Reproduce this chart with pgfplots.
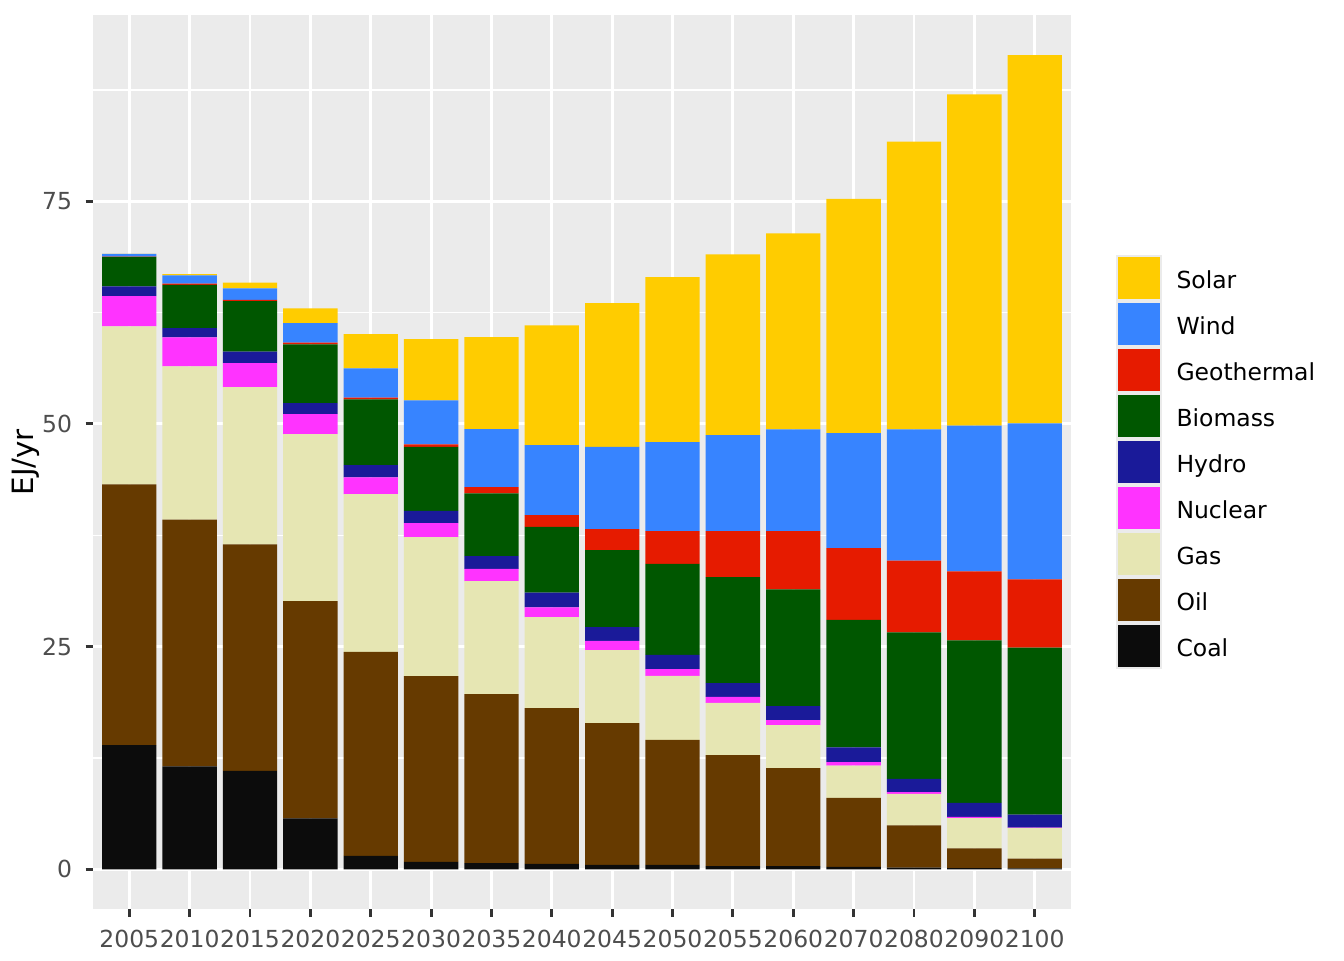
\documentclass[border=0pt]{standalone}
\usepackage{fontspec}
\setmainfont{DejaVu Sans}
\usepackage{pgfplots}
\usepackage{pgfplotstable}
\pgfplotsset{compat=1.18}
\definecolor{ggbg}{HTML}{EBEBEB}
\definecolor{gg20}{HTML}{333333}
\definecolor{gg30}{HTML}{4D4D4D}
\definecolor{cSolar}{HTML}{FFCC00}
\definecolor{cWind}{HTML}{3784FF}
\definecolor{cGeo}{HTML}{E61B00}
\definecolor{cBio}{HTML}{005700}
\definecolor{cHydro}{HTML}{1A1A99}
\definecolor{cNuc}{HTML}{FF33FF}
\definecolor{cGas}{HTML}{E6E6B3}
\definecolor{cOil}{HTML}{663A00}
\definecolor{cCoal}{HTML}{0C0C0C}
\pgfplotstableread{
x year Coal Oil Gas Nuclear Hydro Biomass Geothermal Wind Solar
1 2005 13.93 29.28 17.74 3.39 1.10 3.31 0.02 0.31 0.02
2 2010 11.55 27.72 17.19 3.25 1.05 4.86 0.14 0.92 0.13
3 2015 11.05 25.43 17.65 2.69 1.29 5.68 0.14 1.28 0.65
4 2020 5.73 24.38 18.74 2.24 1.24 6.60 0.19 2.19 1.65
5 2025 1.50 22.90 17.73 1.88 1.37 7.38 0.18 3.30 3.84
6 2030 0.83 20.86 15.59 1.59 1.37 7.17 0.30 4.93 6.87
7 2035 0.70 18.97 12.67 1.38 1.45 7.04 0.69 6.52 10.31
8 2040 0.61 17.48 10.21 1.12 1.63 7.38 1.34 7.86 13.44
9 2045 0.49 15.93 8.19 1.04 1.54 8.63 2.36 9.23 16.15
10 2050 0.51 14.02 7.18 0.76 1.60 10.21 3.68 10.01 18.52
11 2055 0.36 12.47 5.86 0.66 1.55 11.91 5.15 10.77 20.31
12 2060 0.36 11.01 4.82 0.56 1.56 13.13 6.52 11.43 22.01
13 2070 0.27 7.75 3.63 0.39 1.65 14.30 8.08 12.89 26.29
14 2080 0.20 4.73 3.55 0.18 1.50 16.43 8.06 14.74 32.31
15 2090 0.15 2.19 3.40 0.15 1.57 18.23 7.76 16.36 37.19
16 2100 0.10 1.09 3.44 0.05 1.45 18.77 7.65 17.50 41.34
}\datatable
\pgfplotsset{
  ggkey/.style={legend image code/.code={%
    \path[fill=ggbg] (0pt,-8.625pt) rectangle (17.1pt,8.625pt);
    \path[##1,draw=none] (0.65pt,-7.875pt) rectangle (16.45pt,7.875pt);
  }},
}
\begin{document}
\begin{tikzpicture}
\path[use as bounding box] (0,0) rectangle (504pt,360pt);
\begin{axis}[
  at={(34.9pt,19.0pt)}, anchor=south west,
  scale only axis, width=366.7pt, height=335.3pt,
  ybar stacked, bar width=0.9,
  xmin=0.4, xmax=16.6, ymin=-4.49, ymax=95.88,
  axis background/.style={fill=ggbg},
  axis line style={draw=none},
  xtick={1,...,16},
  xticklabels from table={\datatable}{year},
  ytick={0,25,50,75},
  minor ytick={12.5,37.5,62.5,87.5},
  grid=both,
  major grid style={white, line width=1.07pt},
  minor grid style={white, line width=0.53pt},
  tick align=outside, tick pos=left,
  major tick length=2.75pt, minor tick length=0pt,
  tick style={color=gg20, line width=1.07pt},
  /pgf/number format/assume math mode=true,
  ticklabel style={font=\fontsize{8.8}{10}\selectfont, text=gg30},
  xticklabel style={inner sep=0pt, anchor=north, yshift=-4.95pt},
  yticklabel style={inner sep=0pt, anchor=east, xshift=-4.95pt},
  ylabel={EJ/yr},
  ylabel style={font=\fontsize{11}{13}\selectfont, at={(axis description cs:-0.0686,0.5)}, anchor=center, rotate=0},
  reverse legend,
  legend style={draw=none, fill=none, inner sep=0pt, outer sep=0pt,
    row sep=0pt, column sep=5.6pt,
    at={(1.0461,0.7313)}, anchor=north west,
    font=\fontsize{8.8}{10}\selectfont,
    nodes={inner sep=0pt, yshift=-1.1pt}},
  legend cell align=left,
]
\addplot[fill=cCoal, draw=none, ggkey] table[x=x,y=Coal]{\datatable};
\addlegendentry{Coal}
\addplot[fill=cOil, draw=none, ggkey] table[x=x,y=Oil]{\datatable};
\addlegendentry{Oil}
\addplot[fill=cGas, draw=none, ggkey] table[x=x,y=Gas]{\datatable};
\addlegendentry{Gas}
\addplot[fill=cNuc, draw=none, ggkey] table[x=x,y=Nuclear]{\datatable};
\addlegendentry{Nuclear}
\addplot[fill=cHydro, draw=none, ggkey] table[x=x,y=Hydro]{\datatable};
\addlegendentry{Hydro}
\addplot[fill=cBio, draw=none, ggkey] table[x=x,y=Biomass]{\datatable};
\addlegendentry{Biomass}
\addplot[fill=cGeo, draw=none, ggkey] table[x=x,y=Geothermal]{\datatable};
\addlegendentry{Geothermal}
\addplot[fill=cWind, draw=none, ggkey] table[x=x,y=Wind]{\datatable};
\addlegendentry{Wind}
\addplot[fill=cSolar, draw=none, ggkey] table[x=x,y=Solar]{\datatable};
\addlegendentry{Solar}
\end{axis}
\end{tikzpicture}
\end{document}
